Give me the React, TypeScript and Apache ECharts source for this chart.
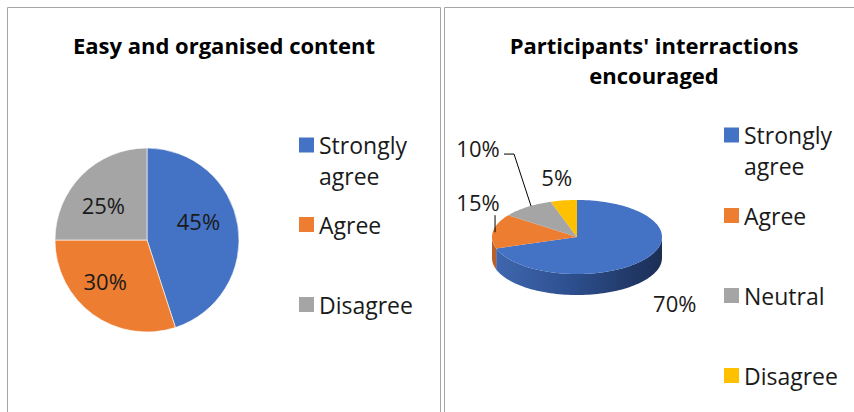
import React, { useEffect, useRef } from 'react';
import * as echarts from 'echarts';

const leftTitle = 'Easy and organised content';
const leftCategories = ['Strongly agree', 'Agree', 'Disagree'];
const leftValues = [45, 30, 25];
const leftColors = ['#4472C4', '#ED7D31', '#A5A5A5'];

const rightTitle = "Participants' interractions\nencouraged";
const rightCategories = ['Strongly agree', 'Agree', 'Neutral', 'Disagree'];
const rightValues = [70, 15, 10, 5];
const rightColors = ['#4472C4', '#ED7D31', '#A5A5A5', '#FFC000'];

const FONT = '"Open Sans", "Noto Sans", sans-serif';

export default function App() {
  const ref = useRef<HTMLDivElement>(null);
  useEffect(() => {
    document.body.style.margin = '0';
    const chart = echarts.init(ref.current!, null, { renderer: 'svg' });

    // 3D pie geometry (layout)
    const G = { cx: 577, cy: 237, rx: 85, ry: 37, depth: 21 };
    const total = rightValues.reduce((a, b) => a + b, 0);
    const pt = (deg: number, dy = 0) => {
      const r = (deg * Math.PI) / 180;
      return [G.cx + G.rx * Math.sin(r), G.cy - G.ry * Math.cos(r) + dy];
    };
    const arc = (a0: number, a1: number, dy: number) => {
      const n = Math.max(2, Math.ceil(Math.abs(a1 - a0) / 2));
      const out: number[][] = [];
      for (let k = 0; k <= n; k++) out.push(pt(a0 + ((a1 - a0) * k) / n, dy));
      return out;
    };
    const sideFills: any[] = [
      new echarts.graphic.LinearGradient(492, 0, 662, 0, [
        { offset: 0, color: '#4068B0' },
        { offset: 0.45, color: '#2E5090' },
        { offset: 1, color: '#1B2E55' },
      ], true),
      '#B8602A',
      '#7F7F7F',
      '#C49500',
    ];
    const labelShift = [[29, 44], [-15, -29], [-49, -59], [-7, -23]];
    const leaders: (number[][] | null)[] = [
      null,
      [[2, 1], [2, -16]],
      [[4, -1], [-13, -53], [-23, -53]],
      null,
    ];

    const makeRender = (i: number) => (params: any, api: any) => {
      const v = api.value(0);
      let before = 0;
      for (let k = 0; k < i; k++) before += rightValues[k];
      const a0 = (before / total) * 360;
      const a1 = ((before + v) / total) * 360;
      const children: any[] = [];
      const s = Math.max(a0, 90);
      const e = Math.min(a1, 270);
      if (e > s) {
        children.push({
          type: 'polygon',
          shape: { points: arc(s, e, 0).concat(arc(e, s, G.depth)) },
          style: { fill: sideFills[i] },
        });
      }
      children.push({
        type: 'polygon',
        shape: { points: [[G.cx, G.cy]].concat(arc(a0, a1, 0)) },
        style: { fill: rightColors[i] },
      });
      const mid = pt((a0 + a1) / 2);
      const ld = leaders[i];
      if (ld) {
        children.push({
          type: 'polyline',
          shape: { points: ld.map((p) => [mid[0] + p[0], mid[1] + p[1]]) },
          style: { stroke: '#000', lineWidth: 1, fill: null },
        });
      }
      children.push({
        type: 'text',
        x: mid[0] + labelShift[i][0],
        y: mid[1] + labelShift[i][1],
        style: {
          text: Math.round((v / total) * 100) + '%',
          fontSize: 22,
          fontFamily: FONT,
          fill: '#1a1a1a',
          align: 'center',
          verticalAlign: 'middle',
        },
      });
      return { type: 'group', children };
    };

    const leftShift = [[3, -11], [-13, 1], [-9, 0]];

    const squareTop = 'path://M0,0h10v10h-10z M0,30h0.01';
    const mkLegend = (name: string, color: string, left: number, top: number, twoLine = false) => ({
      left,
      top,
      orient: 'vertical',
      padding: 0,
      selectedMode: false,
      itemWidth: 15,
      itemHeight: twoLine ? 45 : 15,
      icon: twoLine ? squareTop : 'rect',
      itemStyle: { borderWidth: 0 },
      formatter: (n: string) => (n === 'Strongly agree' ? 'Strongly\nagree' : n),
      textStyle: { fontSize: 23, fontFamily: FONT, color: '#1a1a1a', lineHeight: 31 },
      data: [{ name, itemStyle: { color, borderWidth: 0 } }],
    });

    chart.setOption({
      animation: false,
      backgroundColor: '#fff',
      title: [
        {
          text: leftTitle,
          left: 224,
          top: 30,
          textAlign: 'center',
          padding: 0,
          textStyle: { fontSize: 22, fontWeight: 'bold', fontFamily: FONT, color: '#000', lineHeight: 30 },
        },
        {
          text: rightTitle,
          left: 654,
          top: 30,
          textAlign: 'center',
          padding: 0,
          textStyle: { fontSize: 22, fontWeight: 'bold', fontFamily: FONT, color: '#000', lineHeight: 30 },
        },
      ],
      legend: [
        mkLegend(leftCategories[0], leftColors[0], 299, 129, true),
        mkLegend(leftCategories[1], leftColors[1], 299, 209),
        mkLegend(leftCategories[2], leftColors[2], 299, 289),
        mkLegend(rightCategories[0], rightColors[0], 724, 119, true),
        mkLegend(rightCategories[1], rightColors[1], 724, 200),
        mkLegend(rightCategories[2], rightColors[2], 724, 280),
        mkLegend(rightCategories[3], rightColors[3], 724, 360),
      ],
      graphic: [
        {
          type: 'rect',
          z: -10,
          shape: { x: 7.5, y: 7.5, width: 433, height: 430 },
          style: { fill: 'none', stroke: '#A6A6A6', lineWidth: 1 },
          silent: true,
        },
        {
          type: 'rect',
          z: -10,
          shape: { x: 444.5, y: 7.5, width: 430, height: 430 },
          style: { fill: 'none', stroke: '#A6A6A6', lineWidth: 1 },
          silent: true,
        },
      ],
      series: [
        {
          type: 'pie',
          name: leftTitle,
          center: [147, 240],
          radius: 92,
          startAngle: 90,
          clockwise: true,
          silent: true,
          data: leftCategories.map((n, i) => ({ name: n, value: leftValues[i], itemStyle: { color: leftColors[i] } })),
          itemStyle: { borderColor: '#fff', borderWidth: 0.6 },
          label: {
            show: true,
            position: 'inside',
            formatter: '{d}%',
            fontSize: 22,
            fontFamily: FONT,
            color: '#1a1a1a',
          },
          labelLine: { show: false },
          labelLayout: (p: any) => ({ dx: leftShift[p.dataIndex][0], dy: leftShift[p.dataIndex][1] }),
        },
        ...rightCategories.map((n, i) => ({
          type: 'custom',
          name: n,
          coordinateSystem: 'none',
          silent: true,
          itemStyle: { color: rightColors[i] },
          data: [rightValues[i]],
          renderItem: makeRender(i),
        })),
      ],
    });
    return () => chart.dispose();
  }, []);
  return <div ref={ref} style={{ width: 854, height: 412 }} />;
}
